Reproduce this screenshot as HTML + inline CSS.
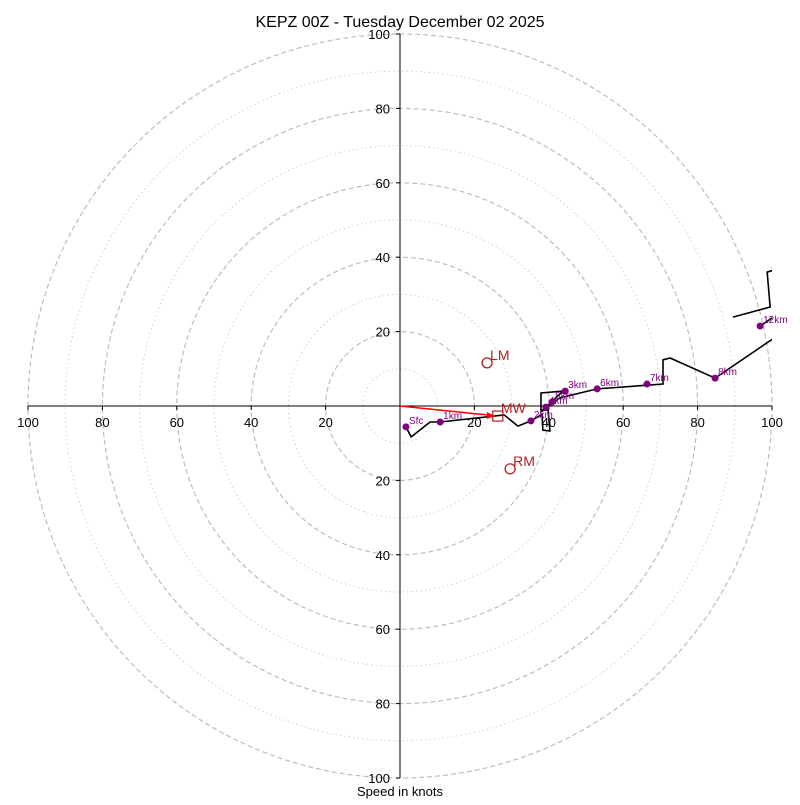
<!DOCTYPE html>
<html><head><meta charset="utf-8"><style>
body{margin:0;background:#fff}
text{font-family:"Liberation Sans","DejaVu Sans",sans-serif}
</style></head><body>
<svg id="chart" width="800" height="800" viewBox="0 0 800 800" xmlns="http://www.w3.org/2000/svg">
<rect width="800" height="800" fill="#fff"/>
<defs><clipPath id="clip"><rect x="28" y="34" width="744" height="744"/></clipPath></defs>
<g id="rings"></g>
<g id="axes"></g>
<g id="series" clip-path="url(#clip)"></g>
<g id="hmarks"></g>
<g id="marks"></g>
<text x="400" y="27" text-anchor="middle" font-size="16">KEPZ 00Z - Tuesday December 02 2025</text>
<text x="400" y="796" text-anchor="middle" font-size="13">Speed in knots</text>
</svg>
<script>
const ringDashed=[20,40,60,80,100];
const ringDotted=[10,30,50,70,90];
const tickVals=[20,40,60,80,100];
const line1U=[1.6,3.0,8.1,10.8,28.0,31.7,35.2,38.2,38.4,40.3,39.8,37.9,37.9,43.8,37.9,43.0,53.0,70.7,70.7,72.6,84.7,115.6];
const line1V=[-5.6,-8.3,-4.3,-4.3,-2.4,-5.4,-4.0,-2.2,-6.5,-6.7,-1.1,-1.1,3.5,4.0,-1.6,2.2,4.6,5.9,12.4,12.9,7.5,28.5];
const line2U=[89.5,99.5,98.7,102];
const line2V=[23.9,26.6,36.0,37];
const line3U=[96.8,105];
const line3V=[21.5,27];
const hgtLabels=["Sfc","1km","2km","3km","4km","5km","6km","7km","8km","12km"];
const hgtU=[1.6,10.8,35.2,44.4,39.2,40.9,53.0,66.4,84.7,96.8];
const hgtV=[-5.6,-4.3,-4.0,4.0,-0.3,1.1,4.6,5.9,7.5,21.5];
const mwUV=[26.3,-2.7];
const lmUV=[23.4,11.6];
const rmUV=[29.6,-16.9];
const CX=400,CY=406,S=3.72;
const sx=u=>CX+u*S, sy=v=>CY-v*S;
const NS="http://www.w3.org/2000/svg";
function mk(tag,attrs,parent){const e=document.createElementNS(NS,tag);for(const k in attrs)e.setAttribute(k,attrs[k]);parent.appendChild(e);return e;}
const rings=document.getElementById('rings'),axes=document.getElementById('axes'),series=document.getElementById('series'),marks=document.getElementById('marks'),hmarks=document.getElementById('hmarks');
ringDashed.forEach(r=>{const c=mk('circle',{cx:CX,cy:CY,r:r*S,fill:'none',stroke:'#bdbdbd','stroke-width':1.2,'stroke-dasharray':'5,3'},rings);

});
ringDotted.forEach(r=>{const c=mk('circle',{cx:CX,cy:CY,r:r*S,fill:'none',stroke:'#cfcfcf','stroke-width':1,'stroke-dasharray':'1.5,3'},rings);

});
let l=mk('line',{x1:sx(-100),y1:CY,x2:sx(100),y2:CY,stroke:'#000','stroke-width':1},axes);


l=mk('line',{x1:CX,y1:sy(100),x2:CX,y2:sy(-100),stroke:'#000','stroke-width':1},axes);


tickVals.forEach(t=>{[-1,1].forEach(s=>{
 mk('line',{x1:sx(s*t),y1:CY,x2:sx(s*t),y2:CY+4,stroke:'#000'},axes);
 let tx=mk('text',{x:sx(s*t),y:CY+21,'text-anchor':'middle','font-size':13},axes);tx.textContent=t;
 
 
 mk('line',{x1:CX,y1:sy(s*t),x2:CX-4,y2:sy(s*t),stroke:'#000'},axes);
 let ty=mk('text',{x:CX-10,y:sy(s*t)+5,'text-anchor':'end','font-size':13},axes);ty.textContent=t;
 
 
});});
function poly(U,V,name){const p=mk('polyline',{points:U.map((u,i)=>sx(u)+','+sy(V[i])).join(' '),fill:'none',stroke:'#000','stroke-width':1.6},series);

}
poly(line1U,line1V,'hodograph-line');
poly(line2U,line2V,'hodograph-line-upper');
poly(line3U,line3V,'hodograph-line-top');
hgtLabels.forEach((lb,i)=>{const c=mk('circle',{cx:sx(hgtU[i]),cy:sy(hgtV[i]),r:3.5,fill:'#800080'},hmarks);


const t=mk('text',{x:sx(hgtU[i])+3,y:sy(hgtV[i])-3,'font-size':10,fill:'#800080'},hmarks);t.textContent=lb;

});
const ar=mk('line',{x1:CX,y1:CY,x2:sx(mwUV[0])-3,y2:sy(mwUV[1])-0.3,stroke:'#f00','stroke-width':1.6},marks);


const ax=sx(mwUV[0])-3,ay=sy(mwUV[1]);
const ah=mk('polygon',{points:`${ax},${ay} ${ax-8},${ay-4} ${ax-8},${ay+3}`,fill:'#f00'},marks);


const sq=mk('rect',{x:sx(mwUV[0])-5,y:sy(mwUV[1])-5,width:10,height:10,fill:'none',stroke:'#b22222','stroke-width':1.2},marks);


[['MW',mwUV],['LM',lmUV],['RM',rmUV]].forEach(([n,uv])=>{
 if(n!=='MW'){const c=mk('circle',{cx:sx(uv[0]),cy:sy(uv[1]),r:5,fill:'none',stroke:'#b22222','stroke-width':1.3},marks);
 
 }
 const t=mk('text',{x:sx(uv[0])+3,y:sy(uv[1])-3,'font-size':14,fill:'#b22222'},marks);t.textContent=n;
 
 
});
</script>
</body></html>
